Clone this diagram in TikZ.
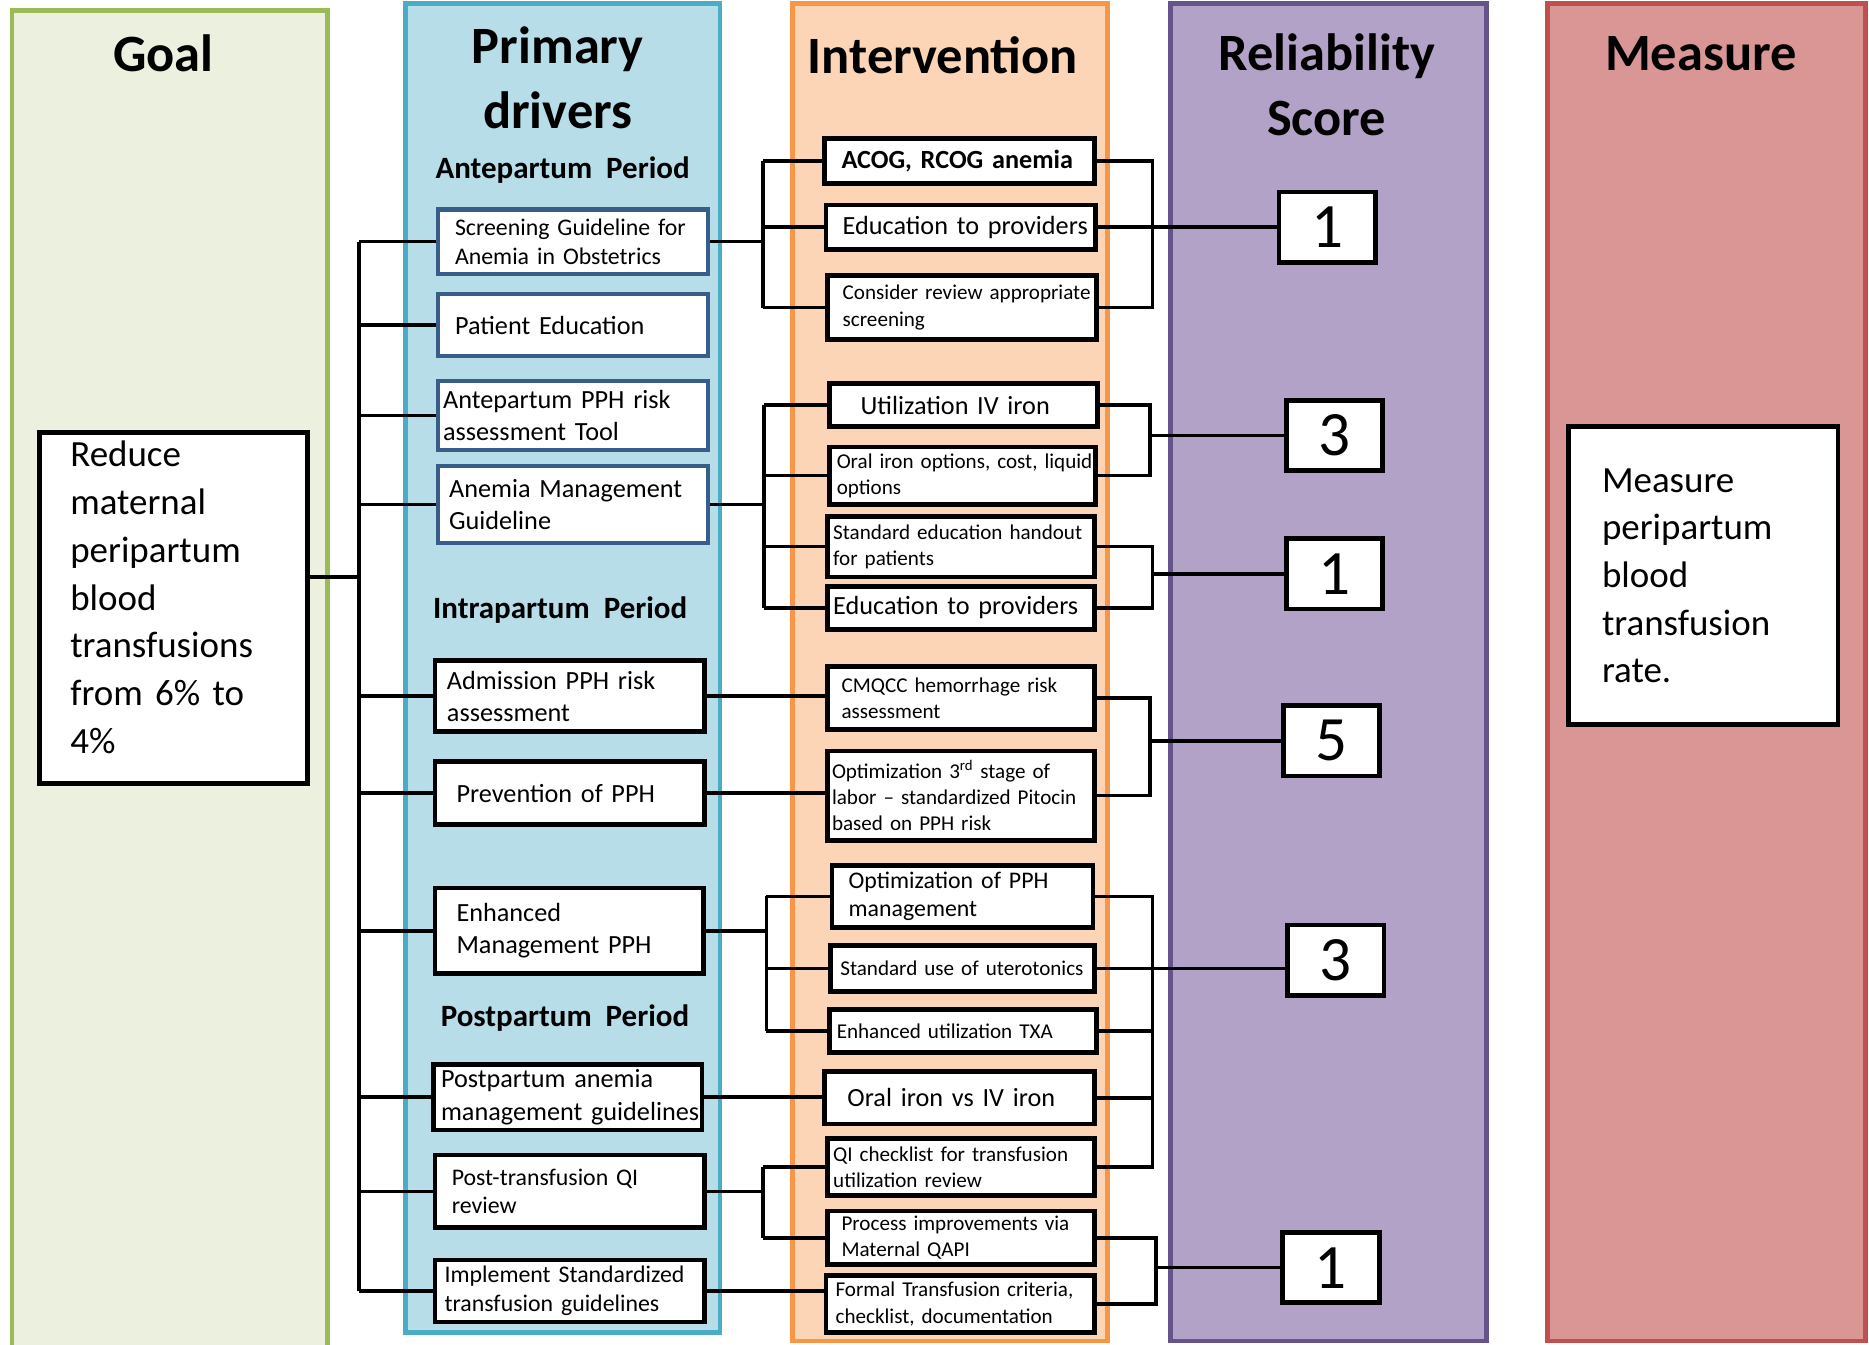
\documentclass[tikz,border=0pt]{standalone}
\usepackage{fontspec}
\setmainfont{Carlito}

\definecolor{goalfill}{HTML}{EBF1DE}
\definecolor{goalline}{HTML}{9BBB59}
\definecolor{drvfill}{HTML}{B7DDE8}
\definecolor{drvline}{HTML}{4BACC6}
\definecolor{intfill}{HTML}{FBD5B5}
\definecolor{intline}{HTML}{F79646}
\definecolor{relfill}{HTML}{B3A2C7}
\definecolor{relline}{HTML}{65548A}
\definecolor{measfill}{HTML}{D99694}
\definecolor{measline}{HTML}{C0504D}
\definecolor{boxblue}{HTML}{385D8A}

\hyphenpenalty=10000
\exhyphenpenalty=10000

\tikzset{
    column/.style={line width=4pt},
    header/.style={font=\bfseries\fontsize{44}{55}\selectfont, anchor=base, align=center, text width=260pt, inner sep=0pt},
    period/.style={font=\bfseries\fontsize{26}{30}\selectfont, anchor=base, inner sep=0pt},
    card/.style n args={3}{anchor=north west, fill=white, align=left, inner ysep=0pt, text width=#1pt-2*#3pt, inner xsep=#3pt, minimum height=#2pt},
    drvbox/.style={draw=boxblue, line width=3.5pt},
    blkbox/.style={draw=black, line width=4pt},
    score/.style={draw=black, line width=4pt, fill=white, minimum width=81pt, minimum height=59pt, inner sep=0pt, font=\fontsize{53}{60}\selectfont},
    bigtxt/.style={font=\fontsize{31}{40}\selectfont},
    lgtxt/.style={font=\fontsize{22}{27}\selectfont},
    mdtxt/.style={font=\fontsize{20}{24}\selectfont},
    smtxt/.style={font=\fontsize{17.7}{22}\selectfont},
    link/.style={line width=3pt},
}

\begin{document}
\begin{tikzpicture}[x=1pt,y=-1pt]
    \useasboundingbox (0,0) rectangle (1568,1128);

    \draw[column, draw=goalline, fill=goalfill] (10,9) rectangle (275,1150);
    \draw[column, draw=drvline, fill=drvfill] (340,3) rectangle (604,1118);
    \draw[column, draw=intline, fill=intfill] (665,3) rectangle (929,1125);
    \draw[column, draw=relline, fill=relfill] (982,3) rectangle (1247,1125);
    \draw[column, draw=measline, fill=measfill] (1298,3) rectangle (1565,1125);

    \node[header] (hgoal) at (137,60) {Goal};
    \node[header] (hdrv) at (468,53) {Primary\\drivers};
    \node[header] (hint) at (791,62) {Intervention};
    \node[header] (hrel) at (1113,59) {Reliability\\Score};
    \node[header] (hmeas) at (1427,59) {Measure};

    \node[period] (pante) at (472,150) {Antepartum~ Period};
    \node[period] (pintra) at (470,519) {Intrapartum~ Period};
    \node[period] (ppost) at (474,861) {Postpartum~ Period};

    \node[card={225}{294}{26}, blkbox, bigtxt, text depth=258pt] (goal) at (31,361) {Reduce\\maternal\\peripartum\\blood\\transfusions\\from 6\% to\\4\%};
    \node[card={226}{250}{28}, blkbox, bigtxt] (meas) at (1314,356) {Measure\\peripartum\\blood\\transfusion\\rate.};

    \node[card={226}{54}{14}, drvbox, mdtxt] (scrguide) at (366,174) {Screening~Guideline~for\\Anemia in Obstetrics};
    \node[card={226}{52}{14}, drvbox, lgtxt] (pated) at (366,245) {Patient Education};
    \node[card={226}{58}{4}, drvbox, lgtxt] (anterisk) at (366,318) {Antepartum PPH risk\\assessment Tool};
    \node[card={226}{65}{9}, drvbox, lgtxt] (anemgd) at (366,389) {Anemia~Management\\Guideline};
    \node[card={226}{60}{10}, blkbox, lgtxt] (admrisk) at (363,552) {Admission PPH risk\\assessment};
    \node[card={226}{53}{18}, blkbox, lgtxt] (prevpph) at (363,637) {Prevention of PPH};
    \node[card={225}{72}{18}, blkbox, lgtxt] (enhpph) at (363,743) {Enhanced\\Management PPH};
    \node[card={225}{55}{6}, blkbox, lgtxt] (postanem) at (362,891) {Postpartum anemia\\management~guidelines};
    \node[card={226}{61}{14}, blkbox, mdtxt] (posttx) at (363,967) {Post-transfusion QI\\review};
    \node[card={226}{52}{8}, blkbox, mdtxt] (stdtx) at (363,1055) {Implement~Standardized\\transfusion guidelines};

    \node[card={226}{38}{14}, blkbox, lgtxt] (acog) at (690,114) {\bfseries ACOG,~RCOG~anemia};
    \node[card={226}{37}{14}, blkbox, lgtxt] (eduone) at (691,170) {Education~to~providers};
    \node[card={226}{54}{13}, blkbox, smtxt] (screen) at (692,229) {Consider~review~appropriate\\screening};
    \node[card={225}{36}{26}, blkbox, lgtxt] (ivir) at (694,320) {Utilization IV iron};
    \node[card={223}{48}{6}, blkbox, smtxt] (oral) at (694,373) {Oral~iron~options,~cost,~liquid\\options};
    \node[card={224}{51}{5}, blkbox, smtxt] (handout) at (692,431) {Standard~education~handout\\for patients};
    \node[card={224}{36}{5}, blkbox, lgtxt] (edutwo) at (692,490) {Education~to~providers};
    \node[card={224}{53}{12}, blkbox, smtxt] (cmqcc) at (692,557) {CMQCC hemorrhage risk\\assessment};
    \node[card={224}{75}{4}, blkbox, smtxt] (pitocin) at (692,628) {Optimization 3\textsuperscript{rd} stage of\\labor~--~standardized~Pitocin\\based on PPH risk};
    \node[card={219}{52}{14}, blkbox, mdtxt] (pphm) at (696,724) {Optimization of PPH\\management};
    \node[card={221}{39}{8}, blkbox, smtxt] (utero) at (695,791) {Standard~use~of~uterotonics};
    \node[card={224}{36}{6}, blkbox, smtxt] (txa) at (694,845) {Enhanced utilization TXA};
    \node[card={226}{44}{19}, blkbox, lgtxt] (ironvs) at (690,897) {Oral iron vs IV iron};
    \node[card={224}{48}{5}, blkbox, smtxt] (qichk) at (692,953) {QI~checklist~for~transfusion\\utilization review};
    \node[card={224}{45}{12}, blkbox, smtxt] (qapi) at (692,1014) {Process~improvements~via\\Maternal QAPI};
    \node[card={225}{48}{8}, blkbox, smtxt] (criteria) at (691,1068) {Formal~Transfusion~criteria,\\checklist, documentation};

    \node[score] (sone) at (1113.5,190.5) {1};
    \node[score] (stwo) at (1119.5,365.5) {3};
    \node[score] (sthree) at (1119.5,481.5) {1};
    \node[score] (sfour) at (1117,621.5) {5};
    \node[score] (sfive) at (1120.5,805.5) {3};
    \node[score] (ssix) at (1116.5,1063.5) {1};

    \coordinate (trunk) at (301,484);
    \draw[link] (trunk -| goal.east) -- (trunk);
    \draw[link] (scrguide.west -| trunk) -- (stdtx.west -| trunk);
    \foreach \n in {scrguide,pated,anterisk,anemgd,admrisk,prevpph,enhpph,postanem,posttx,stdtx}
        \draw[link] (\n.west) -- (\n.west -| trunk);

    \coordinate (la) at (640,0);
    \coordinate (lb) at (641,0);
    \coordinate (lc) at (643,0);
    \coordinate (ld) at (640,0);
    \draw[link] (scrguide.east) -- (scrguide.east -| la);
    \draw[link] (acog.west -| la) -- (screen.west -| la);
    \foreach \n in {acog,eduone,screen}
        \draw[link] (\n.west) -- (\n.west -| la);
    \draw[link] (anemgd.east) -- (anemgd.east -| lb);
    \draw[link] (ivir.west -| lb) -- (edutwo.west -| lb);
    \foreach \n in {ivir,oral,handout,edutwo}
        \draw[link] (\n.west) -- (\n.west -| lb);
    \draw[link] (enhpph.east) -- (enhpph.east -| lc);
    \draw[link] (pphm.west -| lc) -- (txa.west -| lc);
    \foreach \n in {pphm,utero,txa}
        \draw[link] (\n.west) -- (\n.west -| lc);
    \draw[link] (posttx.east) -- (posttx.east -| ld);
    \draw[link] (qichk.west -| ld) -- (qapi.west -| ld);
    \foreach \n in {qichk,qapi}
        \draw[link] (\n.west) -- (\n.west -| ld);
    \draw[link] (admrisk.east) -- (admrisk.east -| cmqcc.west);
    \draw[link] (prevpph.east) -- (prevpph.east -| pitocin.west);
    \draw[link] (postanem.east) -- (postanem.east -| ironvs.west);
    \draw[link] (stdtx.east) -- (stdtx.east -| criteria.west);

    \coordinate (ra) at (967,0);
    \coordinate (rb) at (965,0);
    \coordinate (rc) at (967,0);
    \coordinate (rd) at (965,0);
    \coordinate (re) at (967,0);
    \coordinate (rf) at (970,0);
    \draw[link] (acog.east) -- (acog.east -| ra) -- (screen.east -| ra) -- (screen.east);
    \draw[link] (eduone.east) -- (eduone.east -| sone.west);
    \draw[link] (ivir.east) -- (ivir.east -| rb) -- (oral.east -| rb) -- (oral.east);
    \draw[link] (stwo.west -| rb) -- (stwo.west);
    \draw[link] (handout.east) -- (handout.east -| rc) -- (edutwo.east -| rc) -- (edutwo.east);
    \draw[link] (sthree.west -| rc) -- (sthree.west);
    \draw[link] (cmqcc.east) -- (cmqcc.east -| rd) -- (pitocin.east -| rd) -- (pitocin.east);
    \draw[link] (sfour.west -| rd) -- (sfour.west);
    \draw[link] (pphm.east) -- (pphm.east -| re) -- (qichk.east -| re) -- (qichk.east);
    \foreach \n in {txa,ironvs}
        \draw[link] (\n.east) -- (\n.east -| re);
    \draw[link] (utero.east) -- (utero.east -| sfive.west);
    \draw[link] (qapi.east) -- (qapi.east -| rf) -- (criteria.east -| rf) -- (criteria.east);
    \draw[link] (ssix.west -| rf) -- (ssix.west);
\end{tikzpicture}
\end{document}
